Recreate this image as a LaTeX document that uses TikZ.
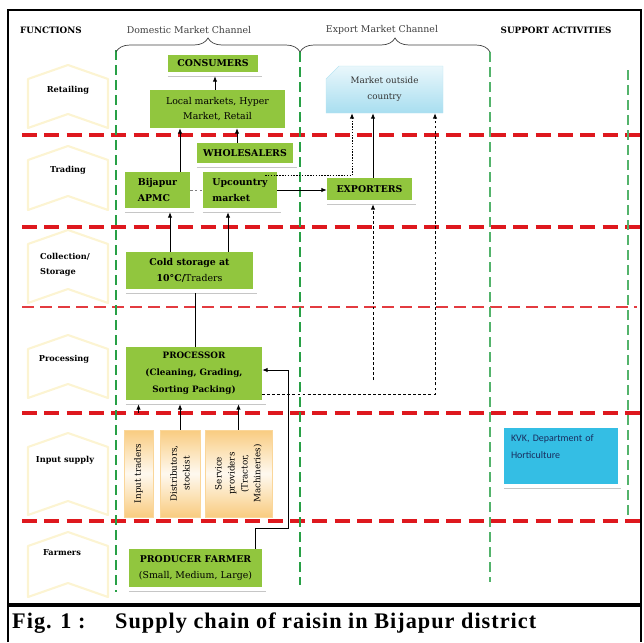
\documentclass[tikz,border=0pt]{standalone}
\usepackage{fontspec}
\setmainfont{DejaVu Serif}
\newfontfamily\capfont[LetterSpace=4.5]{Liberation Serif}
\newfontfamily\kvkfont{Carlito}
\usetikzlibrary{positioning, calc, arrows.meta, shapes.misc, decorations.pathreplacing}
\definecolor{boxgreen}{RGB}{145,198,62}
\definecolor{lanered}{RGB}{222,24,30}
\definecolor{lanegreen}{RGB}{40,160,70}
\definecolor{paleyellow}{RGB}{252,244,210}
\definecolor{peach}{RGB}{249,204,128}
\definecolor{skyfill}{RGB}{168,222,240}
\definecolor{kvkblue}{RGB}{52,190,228}
\definecolor{navy}{RGB}{25,45,95}

\begin{document}
\begin{tikzpicture}[
      x=0.3mm, y=-0.3mm,
      font=\fontsize{8}{13.5}\selectfont,
      greenbox/.style={fill=boxgreen, inner sep=1pt, align=center, font=\fontsize{8}{13.5}\selectfont\bfseries},
      plainbox/.style={greenbox, font=\fontsize{8}{13}\selectfont},
      inputbox/.style={rotate=90, top color=peach, bottom color=peach, middle color=peach!12, draw=peach!80,
        inner sep=1pt, align=center, minimum width=26.1mm, font=\fontsize{7.5}{11}\selectfont},
      funcshape/.style={draw=paleyellow, line width=1.8pt, line join=round},
      funclabel/.style={font=\fontsize{7}{12.5}\selectfont\bfseries, align=left},
      headbold/.style={font=\fontsize{7.5}{9}\selectfont\bfseries},
      headtext/.style={font=\fontsize{8}{9}\selectfont, text=black!75},
      redlane/.style={draw=lanered, line width=2.6pt, dash pattern=on 4.5mm off 2.2mm},
      redthin/.style={draw=lanered!85, line width=1.2pt, dash pattern=on 3.6mm off 1.8mm},
      greenlane/.style={draw=lanegreen, line width=1.8pt, dash pattern=on 3mm off 1.5mm},
      greenthin/.style={draw=lanegreen!80, line width=0.9pt, dash pattern=on 3mm off 1.5mm},
      bracemark/.style={decorate, decoration={brace, amplitude=4.2mm}, draw=black!75, line width=0.6pt},
      shadowline/.style={draw=gray!45, line width=1.1pt},
      flow/.style={-{Latex[length=1.6mm, width=1.3mm]}, line width=0.7pt},
      dotflow/.style={flow, dash pattern=on 1.2pt off 1.2pt},
      dashflow/.style={flow, dash pattern=on 2.5pt off 1.8pt},
      link/.style={draw=gray, line width=0.6pt, dash pattern=on 2pt off 2pt}
    ]
      \useasboundingbox (0,0) rectangle (644,642);

      % frame and caption
      \draw[line width=2.4pt] (8,642) -- (8,10) -- (641,10) -- (641,642);
      \draw[line width=3.2pt] (8,605) -- (641,605);
      \node[anchor=west, inner sep=0pt, font=\capfont\bfseries\fontsize{19}{22}\selectfont] (figlabel) at (12,623) {Fig. 1 :};
      \node[anchor=west, inner sep=0pt, font=\capfont\bfseries\fontsize{19}{22}\selectfont] (figtitle) at (115,623) {Supply chain of raisin in Bijapur district};

      % function chevrons
      \foreach \ya/\yb in {65/128, 146/210, 230/303, 335/398, 433/515, 532/597}
        \draw[funcshape] (28,{\ya+14}) -- (68,\ya) -- (108,{\ya+14}) -- (108,\yb) -- (68,{\yb-14}) -- (28,\yb) -- cycle;

      % swim lanes
      \foreach \y in {135, 227, 413, 521}
        \draw[redlane] (22,\y) -- (641,\y);
      \draw[redthin] (22,307) -- (637,307);
      \draw[greenlane] (116,50) -- (116,592);
      \draw[greenlane] (300,52) -- (300,585);
      \draw[greenthin] (490,52) -- (490,582);
      \draw[greenthin] (628,70) -- (628,520);

      % headers
      \node[headbold, anchor=west] (functions) at (16,30) {FUNCTIONS};
      \node[headtext] (domestic) at (189,30) {Domestic Market Channel};
      \node[headtext] (export) at (382,30) {Export Market Channel};
      \node[headbold] (support) at (556,30) {SUPPORT ACTIVITIES};
      \draw[bracemark] (116,52) -- (300,52);
      \draw[bracemark] (300,52) -- (490,52);

      % function labels
      \node[funclabel] (fretail) at (68,90) {Retailing};
      \node[funclabel] (ftrade) at (68,170) {Trading};
      \node[funclabel] (fstore) at (65,265) {Collection/\\Storage};
      \node[funclabel] (fprocess) at (64,359) {Processing};
      \node[funclabel] (finput) at (65,460) {Input supply};
      \node[funclabel] (ffarm) at (62,553) {Farmers};

      % domestic channel
      \node[greenbox, minimum width=27mm, minimum height=5.1mm] (consumers) at (213,63.5) {CONSUMERS};
      \node[plainbox, minimum width=40.5mm, minimum height=11.4mm] (local) at (217.5,109) {Local markets, Hyper\\Market, Retail};
      \node[greenbox, minimum width=28.8mm, minimum height=6mm] (wholesalers) at (245,153) {WHOLESALERS};
      \node[greenbox, align=left, minimum width=19.5mm, minimum height=10.8mm] (apmc) at (157.5,190) {Bijapur\\APMC};
      \node[greenbox, align=left, minimum width=22.2mm, minimum height=10.8mm] (upcountry) at (240,190) {Upcountry\\market};
      \node[greenbox, minimum width=38.1mm, minimum height=11.1mm] (cold) at (189.5,270.5) {Cold storage at\\10°C/\mdseries Traders};
      \node[greenbox, font=\fontsize{7.5}{14.5}\selectfont\bfseries, minimum width=40.8mm, minimum height=15.9mm] (processor) at (194,373.5) {PROCESSOR\\(Cleaning, Grading,\\Sorting Packing)};
      \node[inputbox, minimum height=8.7mm] (inputtraders) at (138.5,473.5) {Input traders};
      \node[inputbox, minimum height=12mm] (distributors) at (180,473.5) {Distributors,\\stockist};
      \node[inputbox, minimum height=20.1mm] (services) at (238.5,473.5) {Service\\providers\\(Tractor,\\Machineries)};
      \node[greenbox, minimum width=39.9mm, minimum height=11.4mm] (farmer) at (195.5,568) {PRODUCER FARMER\\\mdseries(Small, Medium, Large)};

      % export channel
      \node[greenbox, minimum width=25.5mm, minimum height=6.6mm] (exporters) at (369.5,189) {EXPORTERS};
      \node[chamfered rectangle, chamfered rectangle corners=north west, chamfered rectangle xsep=2.4mm,
        chamfered rectangle ysep=1.5mm, top color=skyfill!25, bottom color=skyfill, draw=skyfill!80,
        align=center, inner sep=1pt, minimum width=35.1mm, minimum height=14.1mm,
        font=\fontsize{7.5}{13.5}\selectfont, text=black!80] (outside) at (384.5,89.5) {Market outside\\country};

      % support activities
      \node[fill=kvkblue, text=navy, align=left, text width=30mm, text depth=11mm, inner sep=2mm,
        minimum width=33mm, font=\kvkfont\fontsize{8.5}{15}\selectfont] (kvk) at (561,456) {KVK, Department of\\Horticulture};

      % shadows under boxes
      \foreach \n in {consumers, wholesalers, apmc, upcountry, exporters, cold, processor, farmer, kvk}
        \draw[shadowline] ([yshift=-1.2mm]\n.south west) -- ([xshift=1mm, yshift=-1.2mm]\n.south east);

      % connectors
      \draw[flow] ([xshift=-0.75mm]local.north) -- ([xshift=-0.75mm, yshift=-1.2mm]local.north |- consumers.south);
      \draw[flow] ([xshift=6.75mm]apmc.north) -- ([xshift=6.75mm]apmc.north |- local.south);
      \draw[flow] ([xshift=-2.4mm]wholesalers.north) -- ([xshift=-2.4mm]wholesalers.north |- local.south);
      \draw[link] (apmc.east) -- (apmc.east -| upcountry.west);
      \draw[flow] (upcountry.east) -- (upcountry.east -| exporters.west);
      \draw[dotflow] ([xshift=-3.6mm, yshift=-1.2mm]upcountry.north east) -| ([xshift=-9.75mm]outside.south);
      \draw[flow] ([xshift=1.05mm]exporters.north) -- ([xshift=1.05mm]exporters.north |- outside.south);
      \draw[dashflow] ([yshift=-6.15mm]processor.east) -| ([xshift=15.15mm]outside.south);
      \coordinate (expfoot) at (373,380);
      \draw[dashflow] (expfoot) -- ([yshift=-1.2mm]expfoot |- exporters.south);
      \draw[flow] ([xshift=-5.85mm]cold.north) -- ([xshift=-5.85mm, yshift=-1.2mm]cold.north |- apmc.south);
      \draw[flow] ([xshift=11.55mm]cold.north) -- ([xshift=11.55mm, yshift=-1.2mm]cold.north |- upcountry.south);
      \draw[line width=0.7pt] ([xshift=0.3mm]processor.north) -- ([xshift=0.3mm, yshift=-1.2mm]processor.north |- cold.south);
      \draw[flow] ([yshift=5mm]inputtraders.east) -- ([yshift=-1.2mm]inputtraders.east |- processor.south);
      \draw[flow] (distributors.east) -- ([yshift=-1.2mm]distributors.east |- processor.south);
      \draw[flow] (services.east) -- ([yshift=-1.2mm]services.east |- processor.south);
      \coordinate (farmbend) at (288,528);
      \draw[flow] ([xshift=-2.1mm]farmer.north east) |- (farmbend) |- ([yshift=1.05mm]processor.east);
    \end{tikzpicture}
\end{document}
